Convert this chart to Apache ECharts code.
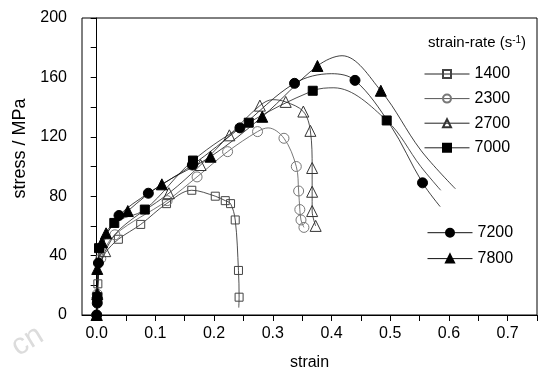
<!DOCTYPE html>
<html>
<head>
<meta charset="utf-8">
<script src="https://cdn.jsdelivr.net/npm/echarts@6/dist/echarts.min.js"></script>
<style>
  html, body { margin: 0; padding: 0; background: #fff; }
  #chart { width: 538px; height: 372px; }
</style>
</head>
<body>
<div id="chart"></div>
<script>
const FONT = '"Liberation Sans Narrow", "Arial Narrow", "Liberation Sans", Arial, sans-serif'

const xTicks = [0, 0.05, 0.1, 0.15, 0.2, 0.25, 0.3, 0.35, 0.4, 0.45, 0.5, 0.55, 0.6, 0.65, 0.7, 0.75]
const xLabels = [0, 0.1, 0.2, 0.3, 0.4, 0.5, 0.6, 0.7]

// [strain, stress, measured] - measured 0 = point on the fitted curve only
const s1400 = [[0, 0, 0], [0.001, 10, 1], [0.002, 21, 1], [0.006, 33, 0], [0.015, 42, 0], [0.037, 51, 1],
  [0.075, 61, 1], [0.119, 75, 1], [0.162, 84, 1], [0.202, 80, 1], [0.219, 77, 1], [0.228, 75, 1],
  [0.236, 64, 1], [0.2415, 30, 1], [0.2426, 12, 1], [0.242, 5, 0]]
const s2300 = [[0, 0, 1], [0.001, 14, 1], [0.003, 27, 0], [0.007, 38, 1], [0.031, 54, 1], [0.12, 77, 1],
  [0.171, 93, 1], [0.223, 110, 1], [0.274, 123.5, 1], [0.292, 126, 0], [0.319, 119, 1], [0.34, 100, 1],
  [0.344, 83.5, 1], [0.346, 71, 1], [0.348, 64, 1], [0.353, 59, 1]]
const s2700 = [[0, 0, 1], [0.001, 15, 1], [0.004, 30, 0], [0.0145, 43, 1], [0.04, 58, 0], [0.123, 82, 1],
  [0.177, 101, 1], [0.226, 121, 1], [0.278, 141, 1], [0.3, 145, 0], [0.322, 143.5, 1], [0.352, 137, 1],
  [0.364, 124, 1], [0.367, 99, 1], [0.367, 83, 1], [0.367, 70, 1], [0.373, 60, 1]]
const s7000 = [[0, 0, 0], [0.001, 12, 1], [0.002, 25, 0], [0.004, 45, 1], [0.03, 62, 1], [0.082, 71, 1],
  [0.164, 104, 1], [0.259, 129.5, 1], [0.368, 151, 1], [0.404, 153, 0], [0.494, 131, 1],
  [0.552, 100, 0], [0.586, 84, 0]]
const s7200 = [[0, 0, 1], [0.001, 8, 1], [0.002, 20, 0], [0.003, 35, 1], [0.015, 52, 0], [0.038, 67, 1],
  [0.088, 82, 1], [0.163, 101, 1], [0.244, 126, 1], [0.337, 156, 1], [0.4, 162.5, 0], [0.44, 158, 1],
  [0.5, 128, 0], [0.555, 89, 1], [0.585, 73, 0]]
const s7800 = [[0, 0, 1], [0.001, 14, 1], [0.001, 31, 1], [0.009, 49, 1], [0.016, 55, 1], [0.053, 70, 1],
  [0.111, 88, 1], [0.194, 106.6, 1], [0.282, 133.5, 1], [0.376, 167.7, 1], [0.418, 174.6, 0],
  [0.484, 151, 1], [0.552, 111, 0], [0.611, 85, 0]]

const rates = ['1400', '2300', '2700', '7000', '7200', '7800']
const curves = [s1400, s2300, s2700, s7000, s7200, s7800]

const looks = [
  { symbol: 'rect', size: 8, fill: 'rgba(0,0,0,0)', stroke: '#444', line: '#222' },
  { symbol: 'circle', size: 10, fill: 'rgba(0,0,0,0)', stroke: '#777', line: '#555' },
  { symbol: 'triangle', size: 11, fill: 'rgba(0,0,0,0)', stroke: '#333', line: '#222' },
  { symbol: 'rect', size: 9, fill: '#000', stroke: '#000', line: '#222' },
  { symbol: 'circle', size: 10, fill: '#000', stroke: '#000', line: '#111' },
  { symbol: 'triangle', size: 11, fill: '#000', stroke: '#000', line: '#111' },
]

const chart = echarts.init(document.getElementById('chart'), null, { renderer: 'canvas' })

const series = rates.map((name, i) => ({
  name: name,
  type: 'line',
  smooth: 0.35,
  symbol: looks[i].symbol,
  symbolSize: looks[i].size,
  showAllSymbol: true,
  animation: false,
  lineStyle: { color: looks[i].line, width: 0.8 },
  itemStyle: { color: looks[i].fill, borderColor: looks[i].stroke, borderWidth: 1 },
  emphasis: { disabled: true },
  data: curves[i].map(p => p[2] ? [p[0], p[1]] : { value: [p[0], p[1]], symbol: 'none' }),
}))

const legendText = { fontFamily: FONT, fontSize: 16, color: '#000' }

const option = {
  backgroundColor: '#fff',
  animation: false,
  grid: {
    left: 82, right: 1, top: 18, bottom: 57,
    show: true, borderColor: '#000', borderWidth: 1,
    outerBoundsMode: 'none',
  },
  xAxis: {
    type: 'value',
    min: -0.025,
    max: 0.75,
    name: 'strain',
    nameLocation: 'middle',
    nameGap: 40,
    nameTextStyle: { fontFamily: FONT, fontSize: 16, color: '#000' },
    axisLine: { show: true, onZero: false, lineStyle: { color: '#000', width: 1 } },
    axisTick: { show: true, customValues: xTicks, length: 6, lineStyle: { color: '#000' } },
    axisLabel: {
      customValues: xLabels, margin: 11,
      fontFamily: FONT, fontSize: 16, color: '#000',
      formatter: v => v.toFixed(1),
    },
    splitLine: { show: false },
  },
  yAxis: {
    type: 'value',
    min: 0,
    max: 200,
    interval: 20,
    name: 'stress / MPa',
    nameLocation: 'middle',
    nameGap: 48,
    nameTextStyle: { fontFamily: FONT, fontSize: 18, color: '#000', padding: [0, 0, 0, 36] },
    axisLine: { show: true, lineStyle: { color: '#000', width: 1 } },
    axisTick: { show: true, length: 6, lineStyle: { color: '#000' } },
    axisLabel: {
      margin: 15, fontFamily: FONT, fontSize: 16, color: '#000',
      formatter: v => (v % 40 === 0 ? String(v) : ''),
    },
    splitLine: { show: false },
  },
  legend: [
    {
      data: rates.slice(0, 4), orient: 'vertical', left: 419, top: 61,
      itemWidth: 45, itemHeight: 10, itemGap: 8.6,
      lineStyle: { width: 1 },
      textStyle: legendText, selectedMode: false,
    },
    {
      data: rates.slice(4), orient: 'vertical', left: 422, top: 219.7,
      itemWidth: 45, itemHeight: 10, itemGap: 9.9,
      lineStyle: { width: 1 },
      textStyle: legendText, selectedMode: false,
    },
  ],
  graphic: [
    {
      type: 'text', left: 428, top: 35,
      style: {
        text: 'strain-rate (s{sup|-1})',
        fontFamily: FONT, fontSize: 15, fill: '#000',
        rich: { sup: { fontFamily: FONT, fontSize: 10, verticalAlign: 'top', fill: '#000' } },
      },
    },
    {
      type: 'text', left: 6, top: 320, rotation: 0.55,
      style: { text: 'cn', fontFamily: FONT, fontSize: 30, fill: '#dcdcdc' },
    },
  ],
  series: series,
}

chart.setOption(option)
</script>
</body>
</html>
